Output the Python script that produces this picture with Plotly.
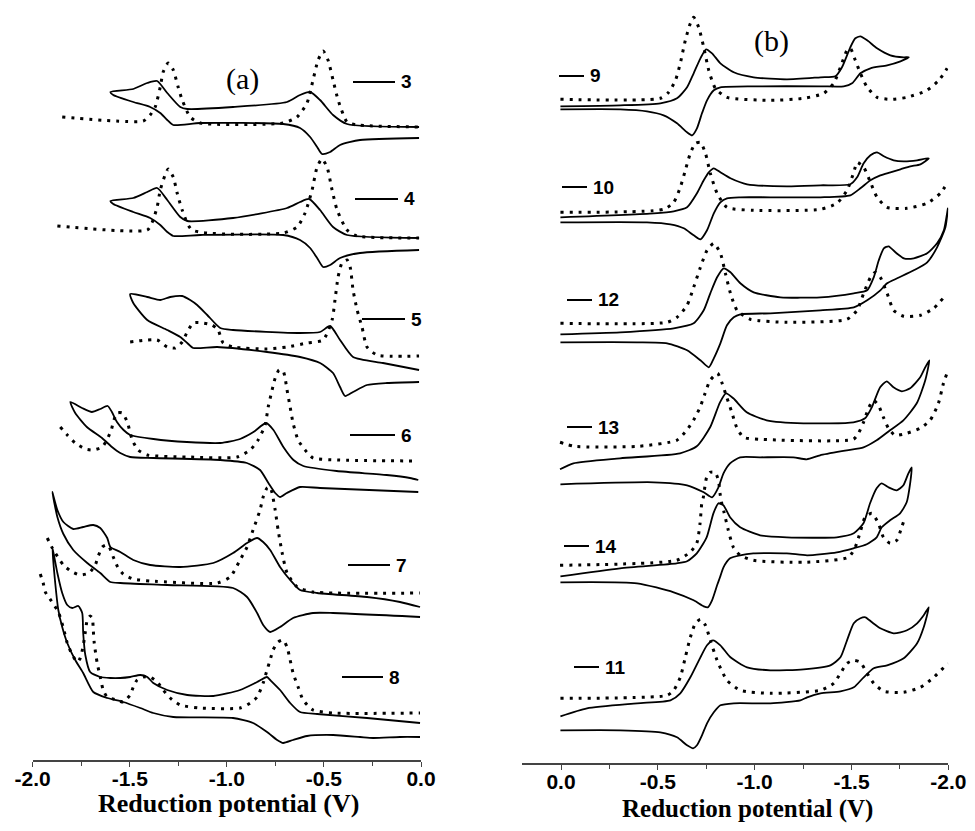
import plotly.graph_objects as go

W, H = 975, 831
OFF = 8  # page body margin of the browser page (content is offset by this)

# ---------------- Panel (a): (E / V, current a.u.) ----------------
cv3 = [(-0.01,633),(-0.381,636),(-0.453,645),(-0.52,660),(-0.571,668),(-0.623,665),(-0.69,658),(-0.968,653),(-1.204,651),(-1.24,653),(-1.307,667),(-1.359,679),(-1.41,677),(-1.482,671),(-1.60,668),(-1.585,665),(-1.482,658),(-1.395,653),(-1.343,647),(-1.307,640),(-1.276,635),(-1.137,637),(-0.71,636),(-0.623,632),(-0.571,623),(-0.535,613),(-0.51,606),(-0.468,608),(-0.417,615),(-0.314,620),(-0.01,622)]
dpv3 = [(-1.848,643),(-1.431,639),(-1.395,645),(-1.369,653),(-1.343,673),(-1.328,688),(-1.302,697),(-1.276,690),(-1.251,673),(-1.23,660),(-1.189,643),(-1.137,637),(-0.71,637),(-0.638,643),(-0.587,657),(-0.556,680),(-0.53,700),(-0.504,709),(-0.479,700),(-0.453,680),(-0.427,660),(-0.381,638),(-0.329,635),(-0.01,633)]

cv4 = [(-0.01,522),(-0.381,525),(-0.453,533),(-0.52,550),(-0.576,561),(-0.623,558),(-0.69,552),(-0.968,542),(-1.204,539),(-1.24,543),(-1.307,560),(-1.359,572),(-1.41,568),(-1.482,562),(-1.60,559),(-1.585,556),(-1.482,548),(-1.395,542),(-1.343,535),(-1.307,528),(-1.276,524),(-1.137,525),(-0.71,525),(-0.623,520),(-0.571,512),(-0.535,502),(-0.504,493),(-0.468,495),(-0.417,502),(-0.314,507),(-0.01,510)]
dpv4 = [(-1.873,534),(-1.41,530),(-1.384,538),(-1.359,553),(-1.343,570),(-1.318,585),(-1.302,591),(-1.276,583),(-1.256,567),(-1.23,550),(-1.179,530),(-0.71,527),(-0.638,533),(-0.597,547),(-0.561,570),(-0.535,593),(-0.51,601),(-0.484,593),(-0.458,570),(-0.432,550),(-0.381,530),(-0.329,524),(-0.01,522)]

cv5 = [(-0.01,390),(-0.196,397),(-0.35,403),(-0.417,420),(-0.468,434),(-0.52,428),(-0.623,427),(-0.968,430),(-1.034,432),(-1.101,445),(-1.153,455),(-1.189,460),(-1.23,464),(-1.292,463),(-1.343,460),(-1.41,463),(-1.498,466),(-1.482,457),(-1.41,440),(-1.307,430),(-1.24,423),(-1.204,417),(-1.173,412),(-1.05,413),(-0.793,408),(-0.623,403),(-0.52,397),(-0.453,387),(-0.417,373),(-0.391,364),(-0.35,368),(-0.278,375),(-0.175,377),(-0.01,378)]
dpv5 = [(-1.498,418),(-1.359,420),(-1.307,413),(-1.266,412),(-1.23,418),(-1.204,428),(-1.173,437),(-1.122,437),(-1.076,435),(-1.045,430),(-1.019,417),(-0.968,413),(-0.793,411),(-0.69,413),(-0.587,417),(-0.504,420),(-0.458,440),(-0.443,460),(-0.427,483),(-0.407,497),(-0.381,500),(-0.365,493),(-0.35,470),(-0.329,450),(-0.304,433),(-0.278,413),(-0.226,405),(-0.01,404)]

cv6 = [(-0.014,280),(-0.057,282),(-0.177,285),(-0.434,289),(-0.606,294),(-0.657,300),(-0.709,313),(-0.76,330),(-0.798,337),(-0.863,328),(-0.932,321),(-1.034,317),(-1.206,318),(-1.378,321),(-1.498,325),(-1.532,330),(-1.566,338),(-1.592,348),(-1.614,354),(-1.652,351),(-1.695,348),(-1.746,352),(-1.806,358),(-1.781,347),(-1.721,333),(-1.643,322),(-1.592,313),(-1.549,307),(-1.498,303),(-1.378,302),(-1.034,300),(-0.897,297),(-0.829,290),(-0.786,277),(-0.751,267),(-0.726,263),(-0.691,267),(-0.623,273),(-0.52,272),(-0.014,268)]
dpv6 = [(-1.858,333),(-1.822,325),(-1.781,317),(-1.729,311),(-1.688,310),(-1.642,313),(-1.616,321),(-1.595,330),(-1.585,338),(-1.565,347),(-1.539,347),(-1.513,338),(-1.487,320),(-1.457,310),(-1.41,305),(-1.204,303),(-0.947,303),(-0.88,310),(-0.839,320),(-0.803,335),(-0.787,353),(-0.767,370),(-0.751,382),(-0.731,390),(-0.71,389),(-0.7,382),(-0.69,370),(-0.674,353),(-0.659,337),(-0.633,320),(-0.597,310),(-0.556,302),(-0.432,300),(-0.015,299)]

cv7 = [(-0.005,153),(-0.108,158),(-0.278,163),(-0.535,167),(-0.623,170),(-0.674,180),(-0.726,193),(-0.777,210),(-0.813,218),(-0.844,222),(-0.896,217),(-0.968,207),(-1.07,197),(-1.24,193),(-1.395,195),(-1.482,200),(-1.549,208),(-1.60,213),(-1.616,222),(-1.652,232),(-1.688,235),(-1.74,233),(-1.791,231),(-1.842,238),(-1.873,250),(-1.899,268),(-1.873,243),(-1.842,226),(-1.791,210),(-1.719,197),(-1.652,187),(-1.60,178),(-1.549,177),(-1.307,175),(-0.968,172),(-0.896,163),(-0.844,147),(-0.813,135),(-0.777,128),(-0.726,133),(-0.659,142),(-0.556,147),(-0.453,147),(-0.005,143)]
dpv7 = [(-1.925,222),(-1.899,212),(-1.842,195),(-1.796,188),(-1.755,185),(-1.709,187),(-1.678,195),(-1.662,204),(-1.642,213),(-1.621,215),(-1.606,213),(-1.585,203),(-1.565,194),(-1.534,186),(-1.482,181),(-1.395,179),(-1.05,177),(-0.983,183),(-0.932,200),(-0.896,213),(-0.865,230),(-0.829,250),(-0.813,263),(-0.793,272),(-0.777,273),(-0.767,267),(-0.751,250),(-0.736,230),(-0.715,207),(-0.69,187),(-0.638,173),(-0.556,168),(-0.005,167)]

cv8 = [(-0.005,37),(-0.278,42),(-0.535,46),(-0.623,48),(-0.674,57),(-0.726,70),(-0.777,80),(-0.793,83),(-0.844,78),(-0.932,70),(-1.07,64),(-1.204,65),(-1.307,70),(-1.379,77),(-1.41,83),(-1.446,85),(-1.498,83),(-1.549,82),(-1.60,82),(-1.652,83),(-1.704,88),(-1.729,105),(-1.74,127),(-1.745,147),(-1.765,154),(-1.796,152),(-1.822,155),(-1.848,167),(-1.873,187),(-1.899,213),(-1.884,177),(-1.868,150),(-1.848,133),(-1.822,117),(-1.781,100),(-1.74,87),(-1.688,68),(-1.616,62),(-1.534,58),(-1.446,52),(-1.379,47),(-1.276,43),(-0.968,42),(-0.865,37),(-0.793,28),(-0.741,20),(-0.71,17),(-0.659,20),(-0.587,24),(-0.453,25),(-0.314,23),(-0.247,22),(-0.108,23),(-0.005,23)]
dpv8 = [(-1.961,186),(-1.946,177),(-1.935,168),(-1.904,159),(-1.868,148),(-1.842,132),(-1.822,117),(-1.796,105),(-1.77,98),(-1.755,102),(-1.74,114),(-1.729,128),(-1.719,140),(-1.704,144),(-1.693,142),(-1.688,130),(-1.683,117),(-1.668,97),(-1.652,83),(-1.637,70),(-1.616,63),(-1.565,60),(-1.534,58),(-1.498,65),(-1.482,73),(-1.462,80),(-1.431,83),(-1.395,83),(-1.359,78),(-1.328,70),(-1.292,62),(-1.24,55),(-1.137,52),(-0.932,52),(-0.88,57),(-0.844,63),(-0.813,77),(-0.793,90),(-0.777,100),(-0.762,110),(-0.736,118),(-0.71,120),(-0.69,113),(-0.674,100),(-0.659,87),(-0.633,73),(-0.607,60),(-0.556,50),(-0.453,47),(-0.005,47)]

# ---------------- Panel (b) ----------------
cv9 = [(0.003,657),(-0.306,658),(-0.513,660),(-0.599,665),(-0.651,676),(-0.685,690),(-0.72,705),(-0.749,714),(-0.78,710),(-0.823,700),(-0.892,691),(-0.995,686),(-1.167,684),(-1.34,686),(-1.417,687),(-1.451,696),(-1.494,716),(-1.52,725),(-1.546,727),(-1.581,723),(-1.632,715),(-1.701,708),(-1.77,706),(-1.796,706),(-1.753,702),(-1.684,698),(-1.598,695),(-1.546,690),(-1.503,680),(-1.46,677),(-1.34,677),(-0.995,677),(-0.823,676),(-0.789,673),(-0.754,663),(-0.728,650),(-0.702,635),(-0.677,628),(-0.651,631),(-0.599,640),(-0.53,648),(-0.444,652),(-0.306,654),(0.003,654)]
dpv9 = [(0.003,664),(-0.513,665),(-0.556,671),(-0.591,683),(-0.616,700),(-0.642,723),(-0.668,740),(-0.685,746),(-0.711,736),(-0.737,716),(-0.763,693),(-0.797,675),(-0.857,666),(-1.081,663),(-1.253,665),(-1.357,670),(-1.408,680),(-1.443,696),(-1.477,713),(-1.494,715),(-1.52,703),(-1.546,690),(-1.581,676),(-1.632,666),(-1.701,664),(-1.787,666),(-1.89,673),(-1.951,683),(-1.994,695)]

cv10 = [(0.003,546),(-0.479,550),(-0.582,552),(-0.651,556),(-0.702,570),(-0.737,583),(-0.763,591),(-0.789,595),(-0.823,591),(-0.875,585),(-0.961,579),(-1.167,577),(-1.34,578),(-1.494,579),(-1.529,586),(-1.563,600),(-1.598,608),(-1.632,611),(-1.667,607),(-1.718,603),(-1.77,602),(-1.839,603),(-1.899,605),(-1.856,599),(-1.804,597),(-1.753,594),(-1.701,591),(-1.649,588),(-1.598,583),(-1.546,575),(-1.494,568),(-1.34,566),(-1.081,566),(-0.926,566),(-0.857,565),(-0.823,561),(-0.789,550),(-0.754,533),(-0.72,524),(-0.685,528),(-0.634,535),(-0.565,539),(-0.444,541),(0.003,541)]
dpv10 = [(0.003,551),(-0.53,554),(-0.582,561),(-0.616,576),(-0.642,593),(-0.668,610),(-0.694,620),(-0.72,621),(-0.746,610),(-0.771,590),(-0.806,570),(-0.857,556),(-0.995,553),(-1.34,554),(-1.425,560),(-1.477,573),(-1.512,591),(-1.529,601),(-1.563,596),(-1.598,581),(-1.632,566),(-1.684,556),(-1.787,555),(-1.89,560),(-1.959,570),(-1.994,580)]

cv12 = [(0.003,429),(-0.306,431),(-0.582,435),(-0.685,440),(-0.737,453),(-0.771,470),(-0.806,486),(-0.84,495),(-0.875,491),(-0.926,480),(-0.995,471),(-1.133,466),(-1.34,466),(-1.512,470),(-1.581,473),(-1.615,486),(-1.641,503),(-1.667,515),(-1.692,517),(-1.727,511),(-1.77,505),(-1.822,505),(-1.891,510),(-1.942,520),(-1.977,533),(-1.998,555),(-1.985,536),(-1.942,516),(-1.891,501),(-1.822,493),(-1.736,485),(-1.684,480),(-1.649,473),(-1.581,463),(-1.512,456),(-1.34,453),(-1.081,450),(-0.926,449),(-0.892,446),(-0.857,438),(-0.823,420),(-0.789,405),(-0.763,396),(-0.72,403),(-0.651,413),(-0.548,420),(-0.393,421),(0.003,421)]
dpv12 = [(0.003,440),(-0.548,441),(-0.599,446),(-0.651,458),(-0.685,476),(-0.72,496),(-0.754,513),(-0.789,520),(-0.823,510),(-0.849,490),(-0.875,470),(-0.909,453),(-0.978,444),(-1.167,441),(-1.477,444),(-1.529,453),(-1.563,470),(-1.598,486),(-1.623,491),(-1.649,486),(-1.684,470),(-1.718,453),(-1.77,447),(-1.856,448),(-1.925,455),(-1.977,466)]

cv13 = [(0.005,294),(-0.064,300),(-0.305,305),(-0.615,310),(-0.701,317),(-0.77,336),(-0.821,361),(-0.852,370),(-0.89,365),(-0.959,351),(-1.062,343),(-1.252,340),(-1.51,341),(-1.57,345),(-1.605,356),(-1.648,376),(-1.682,382),(-1.717,376),(-1.76,372),(-1.803,375),(-1.855,386),(-1.881,396),(-1.902,403),(-1.881,383),(-1.837,360),(-1.768,343),(-1.699,333),(-1.63,323),(-1.562,316),(-1.476,313),(-1.338,308),(-1.269,304),(-1.2,306),(-1.028,306),(-0.925,306),(-0.873,300),(-0.839,290),(-0.813,276),(-0.78,266),(-0.737,271),(-0.651,278),(-0.479,281),(0.003,279)]
dpv13 = [(0.005,321),(-0.07,317),(-0.4,317),(-0.597,323),(-0.649,333),(-0.684,343),(-0.718,356),(-0.744,370),(-0.77,383),(-0.808,390),(-0.83,381),(-0.856,366),(-0.882,351),(-0.907,336),(-0.942,326),(-1.028,324),(-1.51,324),(-1.536,330),(-1.562,341),(-1.588,355),(-1.613,363),(-1.639,358),(-1.665,346),(-1.691,335),(-1.725,328),(-1.785,330),(-1.854,335),(-1.906,343),(-1.949,360),(-1.975,380),(-1.993,390)]

cv14 = [(0.003,187),(-0.305,195),(-0.597,200),(-0.651,202),(-0.701,210),(-0.752,226),(-0.787,250),(-0.813,260),(-0.839,258),(-0.873,246),(-0.925,236),(-1.028,228),(-1.166,226),(-1.424,226),(-1.512,230),(-1.562,240),(-1.596,260),(-1.63,275),(-1.656,280),(-1.691,276),(-1.734,273),(-1.768,278),(-1.794,290),(-1.811,296),(-1.803,280),(-1.785,261),(-1.751,250),(-1.699,243),(-1.656,236),(-1.63,226),(-1.579,219),(-1.51,215),(-1.424,211),(-1.271,208),(-1.166,210),(-0.993,210),(-0.925,208),(-0.873,205),(-0.839,196),(-0.821,186),(-0.806,178),(-0.78,163),(-0.758,156),(-0.737,157),(-0.685,163),(-0.582,171),(-0.393,180),(0.003,181)]
dpv14 = [(0.005,198),(-0.597,203),(-0.666,211),(-0.701,220),(-0.718,240),(-0.727,260),(-0.735,266),(-0.752,286),(-0.77,291),(-0.795,291),(-0.813,283),(-0.821,270),(-0.83,260),(-0.842,251),(-0.864,233),(-0.89,216),(-0.925,208),(-0.993,203),(-1.252,201),(-1.484,206),(-1.519,216),(-1.545,231),(-1.57,246),(-1.605,250),(-1.639,240),(-1.665,226),(-1.7,220),(-1.734,223),(-1.759,236),(-1.777,246)]

cv11 = [(0.003,47),(-0.134,55),(-0.393,60),(-0.565,63),(-0.616,70),(-0.668,86),(-0.72,106),(-0.754,118),(-0.785,123),(-0.823,118),(-0.875,106),(-0.961,96),(-1.081,93),(-1.253,94),(-1.391,98),(-1.443,106),(-1.477,123),(-1.512,140),(-1.546,145),(-1.572,146),(-1.606,141),(-1.649,135),(-1.718,130),(-1.787,133),(-1.839,140),(-1.873,148),(-1.899,156),(-1.873,136),(-1.839,120),(-1.77,105),(-1.684,98),(-1.615,95),(-1.563,86),(-1.512,76),(-1.443,72),(-1.34,70),(-1.271,66),(-1.236,63),(-1.081,60),(-0.892,60),(-0.823,58),(-0.789,51),(-0.754,40),(-0.728,28),(-0.702,18),(-0.682,15),(-0.651,18),(-0.599,26),(-0.513,31),(-0.306,33),(0.003,33)]
dpv11 = [(0.003,65),(-0.548,68),(-0.582,73),(-0.616,86),(-0.642,106),(-0.668,126),(-0.694,140),(-0.72,144),(-0.746,138),(-0.771,123),(-0.806,103),(-0.857,83),(-0.926,73),(-1.081,70),(-1.34,73),(-1.408,80),(-1.443,90),(-1.477,100),(-1.512,103),(-1.546,101),(-1.581,90),(-1.615,80),(-1.667,72),(-1.77,71),(-1.856,76),(-1.925,86),(-1.998,100)]

panel_a_cv = [cv3, cv4, cv5, cv6, cv7, cv8]
panel_a_dpv = [dpv3, dpv4, dpv5, dpv6, dpv7, dpv8]
panel_b_cv = [cv9, cv10, cv12, cv13, cv14, cv11]
panel_b_dpv = [dpv9, dpv10, dpv12, dpv13, dpv14, dpv11]

labels_a = ["3", "4", "5", "6", "7", "8"]
labels_b = ["9", "10", "12", "13", "14", "11"]

ticks_a = [-2.0, -1.5, -1.0, -0.5, 0.0]
ticks_b = [0.0, -0.5, -1.0, -1.5, -2.0]
ticktext_a = ["-2.0", "-1.5", "-1.0", "-0.5", "0.0"]
ticktext_b = ["0.0", "-0.5", "-1.0", "-1.5", "-2.0"]
minor_a = [-1.75, -1.25, -0.75, -0.25]
minor_b = [-0.25, -0.75, -1.25, -1.75]
axis_title = "Reduction potential (V)"

fig = go.Figure()

def add(curves, dotted, xa, ya):
    for c in curves:
        xs = [p[0] for p in c]
        ys = [p[1] for p in c]
        if dotted:
            line = dict(color="black", width=3, dash="3px,6px", shape="spline", smoothing=0.6)
        else:
            line = dict(color="black", width=1.8, shape="spline", smoothing=0.6)
        fig.add_trace(go.Scatter(x=xs, y=ys, mode="lines", line=line,
                                 xaxis=xa, yaxis=ya, showlegend=False, hoverinfo="skip"))

add(panel_a_dpv, True, "x", "y")
add(panel_a_cv, False, "x", "y")
add(panel_b_dpv, True, "x2", "y2")
add(panel_b_cv, False, "x2", "y2")

# screen pixel -> paper fraction (accounting for the page offset)
def px(x):
    return (x - OFF) / W

def py(y):
    return 1 - (y - OFF) / H

tickfont = dict(family="Liberation Sans", size=21, color="black", weight="bold")

axis_common = dict(showline=True, linecolor="#444", linewidth=1.5, ticks="outside",
                   ticklen=5, tickwidth=1.3, tickcolor="#444", showgrid=False,
                   zeroline=False, tickfont=tickfont, tickmode="array", automargin=False,
                   ticklabelstandoff=-6)

yb_a = 760    # screen row of panel (a) axis line
yb_b = 763.3  # screen row of panel (b) axis line

fig.update_layout(
    width=W, height=H, margin=dict(l=0, r=0, t=0, b=0, autoexpand=False),
    paper_bgcolor="white", plot_bgcolor="white", showlegend=False,
    xaxis=dict(domain=[px(32.7), px(421)], range=[-2.0, 0.0], anchor="y",
               tickvals=ticks_a, ticktext=ticktext_a,
               minor=dict(tickvals=minor_a, ticks="outside", ticklen=4, tickcolor="#444"),
               **axis_common),
    yaxis=dict(domain=[py(yb_a), 1], range=[0, yb_a - OFF], visible=False, anchor="x"),
    xaxis2=dict(domain=[px(521.7), px(948.3)], range=[0.203, -2.0], anchor="y2",
                tickvals=ticks_b, ticktext=ticktext_b,
                minor=dict(tickvals=minor_b, ticks="outside", ticklen=4, tickcolor="#444"),
                **axis_common),
    yaxis2=dict(domain=[py(yb_b), 1], range=[0, yb_b - OFF], visible=False, anchor="x2"),
)

# curve labels: short line + bold number
label_pos_a = [(353, 395, 82), (355, 398, 199), (362, 405, 319), (350, 395, 435), (348, 390, 565), (342, 383, 677)]
label_pos_b = [(559, 584, 76), (562, 587, 187), (567, 592, 300), (567, 592, 427), (564, 589, 546), (574, 599, 667)]

shapes = []
annos = []
for names, poss in ((labels_a, label_pos_a), (labels_b, label_pos_b)):
    for name, (x0, x1, yy) in zip(names, poss):
        shapes.append(dict(type="line", xref="paper", yref="paper",
                           x0=px(x0), x1=px(x1), y0=py(yy), y1=py(yy),
                           line=dict(color="black", width=2)))
        annos.append(dict(text=name, xref="paper", yref="paper", x=px(x1 + 4), y=py(yy),
                          xanchor="left", yanchor="middle", showarrow=False,
                          font=dict(family="Liberation Sans", size=19, color="black", weight="bold")))

# panel letters
annos.append(dict(text="(a)", xref="paper", yref="paper", x=px(242), y=py(79),
                  xanchor="center", yanchor="middle", showarrow=False,
                  font=dict(family="Liberation Serif", size=30, color="black")))
annos.append(dict(text="(b)", xref="paper", yref="paper", x=px(771), y=py(41),
                  xanchor="center", yanchor="middle", showarrow=False,
                  font=dict(family="Liberation Serif", size=30, color="black")))

# axis titles
annos.append(dict(text=axis_title, xref="paper", yref="paper", x=px(228), y=py(803),
                  xanchor="center", yanchor="middle", showarrow=False,
                  font=dict(family="Liberation Serif", size=26, color="black", weight="bold")))
annos.append(dict(text=axis_title, xref="paper", yref="paper", x=px(747), y=py(809),
                  xanchor="center", yanchor="middle", showarrow=False,
                  font=dict(family="Liberation Serif", size=25, color="black", weight="bold")))

fig.update_layout(shapes=shapes, annotations=annos)

fig.write_html("out.html")
